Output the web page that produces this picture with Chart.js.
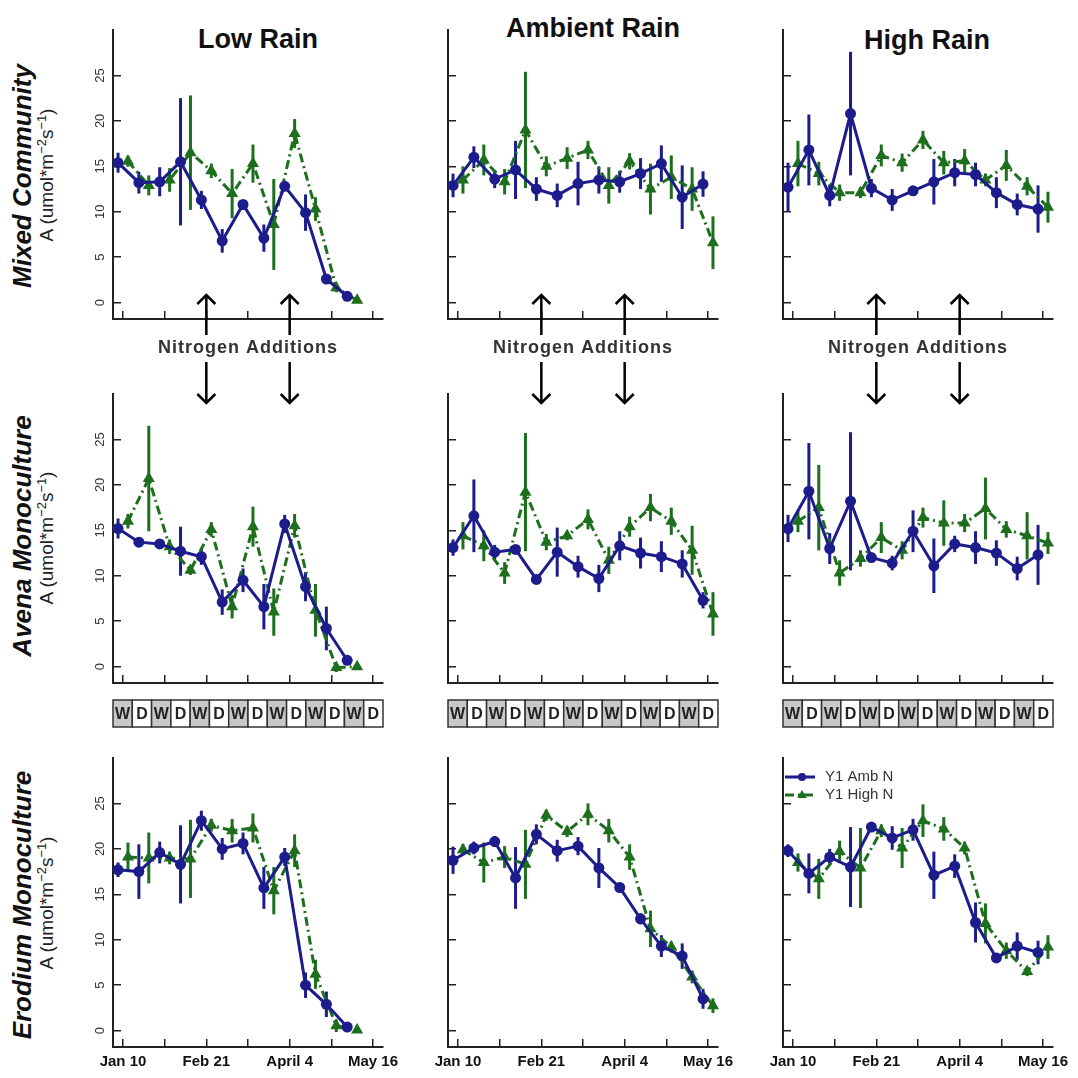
<!DOCTYPE html>
<html>
<head>
<meta charset="utf-8">
<script src="https://cdn.jsdelivr.net/npm/chart.js@4.4.0/dist/chart.umd.min.js"></script>
<style>
  body { margin: 0; background: #fff; width: 1078px; height: 1078px; position: relative; overflow: hidden; font-family: 'Liberation Sans', Arial, sans-serif; }
  canvas { position: absolute; }
  .t { position: absolute; white-space: nowrap; transform: translate(-50%, -50%); color: #111; }
  .r { transform: translate(-50%, -50%) rotate(-90deg); }
  .ttl { font: bold 27px 'Liberation Sans'; }
  .row { font: italic bold 26px 'Liberation Sans'; }
  .ax { font: 19px 'Liberation Sans'; color: #222; }
  sup { font-size: 0.68em; }
</style>
</head>
<body>
<div class="t ttl" style="left:258px;top:39px">Low Rain</div>
<div class="t ttl" style="left:593px;top:28px">Ambient Rain</div>
<div class="t ttl" style="left:927px;top:40px">High Rain</div>

<div class="t r row" style="left:22px;top:176px">Mixed Community</div>
<div class="t r row" style="left:22px;top:536px">Avena Monoculture</div>
<div class="t r row" style="left:22px;top:905px">Erodium Monoculture</div>

<div class="t r ax" style="left:46px;top:175px">A (umol*m<sup>−2</sup>s<sup>−1</sup>)</div>
<div class="t r ax" style="left:46px;top:538px">A (umol*m<sup>−2</sup>s<sup>−1</sup>)</div>
<div class="t r ax" style="left:46px;top:903px">A (umol*m<sup>−2</sup>s<sup>−1</sup>)</div>

<script>
// sampling dates, days after Jan 10
const sampleDays = [0, 10.5, 21, 31.5, 42, 52.5, 63, 73.5, 84, 94.5, 105, 115.5, 126];
const xTickDays = [0, 21, 42, 63, 84, 105, 126];
const xTickLabels = ['Jan 10', '', 'Feb 21', '', 'April 4', '', 'May 16'];
const yTicks = [0, 5, 10, 15, 20, 25];
const nitrogenDays = [42, 84];
const periodType = ['W', 'D', 'W', 'D', 'W', 'D', 'W', 'D', 'W', 'D', 'W', 'D', 'W', 'D'];
const seriesNames = ['Y1 Amb N', 'Y1 High N'];

// Mixed community
const lowMixedAmb = [15.4, 13.2, 13.3, 15.5, 11.3, 6.8, 10.8, 7.1, 12.8, 9.9, 2.6, 0.7];
const lowMixedAmbErr = [1.1, 1.2, 1.6, 7.0, 1.0, 1.3, 0.5, 1.5, 0.5, 2.0, 0.5, 0.3];
const lowMixedHigh = [15.55, 12.9, 13.5, 16.5, 14.5, 12.0, 15.3, 8.6, 18.6, 10.3, 1.65, 0.25];
const lowMixedHighErr = [0.6, 1.1, 1.3, 6.3, 0.8, 2.7, 2.1, 5.0, 1.6, 1.3, 0.5, 0.2];

const ambMixedAmb = [12.9, 16.0, 13.6, 14.6, 12.5, 11.8, 13.1, 13.5, 13.3, 14.2, 15.3, 11.6, 13.05];
const ambMixedAmbErr = [1.3, 1.2, 1.0, 3.2, 1.3, 1.3, 2.4, 1.5, 1.2, 1.7, 2.0, 3.5, 1.4];
const ambMixedHigh = [13.5, 15.7, 13.3, 19.0, 15.0, 15.9, 16.8, 12.9, 15.55, 12.5, 13.8, 12.5, 6.6];
const ambMixedHighErr = [1.5, 1.7, 1.4, 6.4, 1.1, 1.2, 1.0, 2.0, 0.9, 2.8, 2.4, 2.4, 2.9];

const highMixedAmb = [12.7, 16.8, 11.8, 20.8, 12.6, 11.3, 12.3, 13.3, 14.3, 14.1, 12.1, 10.8, 10.3];
const highMixedAmbErr = [2.7, 3.9, 1.2, 6.8, 1.0, 1.2, 0.5, 2.5, 1.5, 1.3, 1.7, 1.2, 2.6];
const highMixedHigh = [15.3, 14.2, 12.1, 12.1, 16.2, 15.4, 17.9, 15.4, 15.6, 13.5, 15.1, 12.8, 10.5];
const highMixedHighErr = [2.5, 1.3, 0.9, 0.6, 1.2, 1.0, 1.0, 1.3, 1.3, 0.7, 1.7, 1.0, 1.7];

// Avena monoculture
const lowAvenaAmb = [15.2, 13.7, 13.5, 12.7, 12.1, 7.1, 9.5, 6.6, 15.7, 8.8, 4.2, 0.7];
const lowAvenaAmbErr = [1.1, 0.5, 0.5, 2.7, 0.9, 1.4, 1.3, 2.5, 1.0, 1.6, 2.4, 0.4];
const lowAvenaHigh = [16.0, 20.7, 13.2, 10.6, 15.1, 6.6, 15.4, 6.0, 15.5, 6.2, -0.1, 0.0];
const lowAvenaHighErr = [0.8, 5.8, 0.8, 0.5, 0.8, 1.3, 2.2, 2.6, 1.3, 2.9, 0.5, 0.3];

const ambAvenaAmb = [13.1, 16.6, 12.6, 12.9, 9.6, 12.6, 11.0, 9.7, 13.3, 12.5, 12.1, 11.3, 7.3];
const ambAvenaAmbErr = [0.9, 4.0, 0.8, 0.4, 0.5, 2.7, 1.2, 1.5, 1.6, 1.7, 1.7, 1.5, 0.9];
const ambAvenaHigh = [14.4, 13.3, 10.3, 19.2, 13.7, 14.4, 16.2, 11.7, 15.4, 17.5, 16.0, 12.8, 5.8];
const ambAvenaHighErr = [1.5, 1.7, 1.2, 6.5, 0.9, 0.5, 1.1, 1.5, 1.1, 1.5, 1.5, 2.7, 2.4];

const highAvenaAmb = [15.2, 19.3, 13.0, 18.2, 12.0, 11.4, 14.9, 11.1, 13.5, 13.1, 12.5, 10.8, 12.3];
const highAvenaAmbErr = [1.5, 5.3, 1.7, 7.6, 0.5, 0.8, 2.3, 3.0, 0.9, 1.8, 1.4, 1.3, 3.3];
const highAvenaHigh = [16.0, 17.5, 10.3, 11.9, 14.2, 12.8, 16.4, 15.8, 15.8, 17.4, 15.1, 14.4, 13.6];
const highAvenaHighErr = [1.2, 4.7, 1.4, 0.9, 1.7, 1.0, 1.1, 2.5, 1.0, 3.4, 0.9, 2.6, 1.2];

// Erodium monoculture
const lowErodiumAmb = [17.7, 17.5, 19.6, 18.3, 23.1, 20.0, 20.6, 15.7, 19.1, 5.0, 2.9, 0.4];
const lowErodiumAmbErr = [0.8, 3.0, 1.2, 4.3, 1.1, 1.2, 1.2, 2.3, 1.0, 1.4, 1.4, 0.3];
const lowErodiumHigh = [19.1, 19.0, 19.0, 18.9, 22.6, 22.0, 22.3, 15.4, 19.8, 6.2, 0.55, 0.07];
const lowErodiumHighErr = [1.6, 2.8, 0.7, 4.3, 0.7, 1.3, 1.6, 2.6, 1.8, 1.6, 0.7, 0.3];

const ambErodiumAmb = [18.75, 20.1, 20.8, 16.8, 21.6, 19.8, 20.3, 17.9, 15.75, 12.3, 9.3, 8.2, 3.5];
const ambErodiumAmbErr = [1.5, 0.7, 0.6, 3.4, 1.1, 1.2, 1.0, 2.2, 0.5, 0.6, 1.2, 1.4, 1.1];
const ambErodiumHigh = [19.9, 18.5, 19.1, 18.3, 23.7, 21.9, 23.8, 22.0, 19.1, 11.2, 9.2, 5.9, 2.75];
const ambErodiumHighErr = [0.6, 2.2, 1.2, 3.8, 0.6, 0.6, 1.2, 1.3, 1.4, 2.0, 0.6, 0.7, 0.8];

const highErodiumAmb = [19.8, 17.3, 19.1, 18.0, 22.4, 21.2, 22.1, 17.1, 18.1, 11.9, 8.0, 9.3, 8.6];
const highErodiumAmbErr = [0.7, 2.2, 0.9, 4.4, 0.5, 1.3, 1.2, 2.6, 1.3, 2.2, 0.5, 1.5, 1.3];
const highErodiumHigh = [18.5, 16.7, 19.7, 17.9, 22.0, 20.1, 23.1, 22.2, 20.1, 11.8, 8.8, 6.5, 9.2];
const highErodiumHighErr = [1.0, 2.2, 1.2, 4.4, 0.7, 2.2, 1.8, 1.3, 0.7, 2.2, 0.9, 0.5, 1.3];

const panels = [
  { row: 0, col: 0, amb: lowMixedAmb, ambErr: lowMixedAmbErr, high: lowMixedHigh, highErr: lowMixedHighErr },
  { row: 0, col: 1, amb: ambMixedAmb, ambErr: ambMixedAmbErr, high: ambMixedHigh, highErr: ambMixedHighErr },
  { row: 0, col: 2, amb: highMixedAmb, ambErr: highMixedAmbErr, high: highMixedHigh, highErr: highMixedHighErr },
  { row: 1, col: 0, amb: lowAvenaAmb, ambErr: lowAvenaAmbErr, high: lowAvenaHigh, highErr: lowAvenaHighErr },
  { row: 1, col: 1, amb: ambAvenaAmb, ambErr: ambAvenaAmbErr, high: ambAvenaHigh, highErr: ambAvenaHighErr },
  { row: 1, col: 2, amb: highAvenaAmb, ambErr: highAvenaAmbErr, high: highAvenaHigh, highErr: highAvenaHighErr },
  { row: 2, col: 0, amb: lowErodiumAmb, ambErr: lowErodiumAmbErr, high: lowErodiumHigh, highErr: lowErodiumHighErr },
  { row: 2, col: 1, amb: ambErodiumAmb, ambErr: ambErodiumAmbErr, high: ambErodiumHigh, highErr: ambErodiumHighErr },
  { row: 2, col: 2, amb: highErodiumAmb, ambErr: highErodiumAmbErr, high: highErodiumHigh, highErr: highErodiumHighErr },
];

const BLUE = '#1c1c8c';
const GREEN = '#1d6e1d';
const INK = '#222';
const FONT = '"Liberation Sans", Arial, sans-serif';

// page layout of each plot area
const colLeft = [113, 448, 783];
const rowTop = [30, 394, 758];
const areaW = 270, areaH = 289;
const yAxisW = 40, xAxisH = 30, padTop = 10, padRight = 40;
const extraBottom = [61, 25, 0];

const errorBars = {
  id: 'errorBars',
  beforeDatasetsDraw(chart) {
    const { ctx, scales: { y } } = chart;
    chart.data.datasets.forEach((ds, i) => {
      const meta = chart.getDatasetMeta(i);
      ctx.save();
      ctx.strokeStyle = ds.borderColor;
      ctx.lineWidth = 3;
      meta.data.forEach((pt, j) => {
        const d = ds.data[j];
        ctx.beginPath();
        ctx.moveTo(pt.x, y.getPixelForValue(d.y - d.e));
        ctx.lineTo(pt.x, y.getPixelForValue(d.y + d.e));
        ctx.stroke();
      });
      ctx.restore();
    });
  }
};

function arrow(ctx, x, from, tip) {
  const dir = Math.sign(tip - from);
  ctx.beginPath();
  ctx.moveTo(x, from);
  ctx.lineTo(x, tip);
  ctx.moveTo(x - 9, tip - dir * 9);
  ctx.lineTo(x, tip);
  ctx.lineTo(x + 9, tip - dir * 9);
  ctx.stroke();
}

function triangle(ctx, x, y, r) {
  ctx.beginPath();
  ctx.moveTo(x, y - r);
  ctx.lineTo(x + r * 0.95, y + r * 0.6);
  ctx.lineTo(x - r * 0.95, y + r * 0.6);
  ctx.closePath();
  ctx.fill();
}

const extras = (p) => ({
  id: 'extras',
  afterDraw(chart) {
    const { ctx, chartArea: a, scales: { x, y } } = chart;
    ctx.save();

    // rotated y tick labels, first column only
    if (p.col === 0) {
      ctx.fillStyle = '#333';
      ctx.font = '13px ' + FONT;
      ctx.textAlign = 'center';
      ctx.textBaseline = 'middle';
      yTicks.forEach(v => {
        ctx.save();
        ctx.translate(a.left - 13, y.getPixelForValue(v));
        ctx.rotate(-Math.PI / 2);
        ctx.fillText(String(v), 0, 0);
        ctx.restore();
      });
    }

    // nitrogen addition arrows under the top row
    if (p.row === 0) {
      ctx.strokeStyle = '#000';
      ctx.lineWidth = 2.5;
      nitrogenDays.forEach(d => {
        const px = x.getPixelForValue(d);
        arrow(ctx, px, a.bottom + 16, a.bottom - 24);
        arrow(ctx, px, a.bottom + 43, a.bottom + 84);
      });
      const mid = (x.getPixelForValue(nitrogenDays[0]) + x.getPixelForValue(nitrogenDays[1])) / 2;
      ctx.fillStyle = '#333';
      ctx.font = 'bold 18px ' + FONT;
      ctx.letterSpacing = '1px';
      ctx.textAlign = 'center';
      ctx.textBaseline = 'middle';
      ctx.fillText('Nitrogen Additions', mid, a.bottom + 29);
      ctx.letterSpacing = '0px';
    }

    // wet / dry periods under the middle row, spread over the axis
    if (p.row === 1) {
      const top = a.bottom + 17, h = 27;
      const step = (x.max - x.min) / periodType.length;
      ctx.font = 'bold 16px ' + FONT;
      ctx.textAlign = 'center';
      ctx.textBaseline = 'middle';
      ctx.lineWidth = 1.5;
      periodType.forEach((t, i) => {
        const x0 = x.getPixelForValue(x.min + i * step);
        const x1 = x.getPixelForValue(x.min + (i + 1) * step);
        ctx.fillStyle = t === 'W' ? '#c8c8c8' : '#fff';
        ctx.fillRect(x0, top, x1 - x0, h);
        ctx.strokeStyle = '#333';
        ctx.strokeRect(x0, top, x1 - x0, h);
        ctx.fillStyle = '#222';
        ctx.fillText(t, (x0 + x1) / 2, top + h / 2 + 1);
      });
    }

    // legend in the last panel
    if (p.row === 2 && p.col === 2) {
      const lx = a.left + 2, ly = a.top + 19;
      ctx.font = '15px ' + FONT;
      ctx.textAlign = 'left';
      ctx.textBaseline = 'middle';
      ctx.strokeStyle = BLUE; ctx.fillStyle = BLUE; ctx.lineWidth = 3;
      ctx.beginPath(); ctx.moveTo(lx, ly); ctx.lineTo(lx + 30, ly); ctx.stroke();
      ctx.beginPath(); ctx.arc(lx + 17, ly, 4, 0, Math.PI * 2); ctx.fill();
      ctx.strokeStyle = GREEN; ctx.fillStyle = GREEN;
      ctx.setLineDash([9, 4, 2, 4]);
      ctx.beginPath(); ctx.moveTo(lx, ly + 18); ctx.lineTo(lx + 30, ly + 18); ctx.stroke();
      ctx.setLineDash([]);
      triangle(ctx, lx + 17, ly + 18, 5);
      ctx.fillStyle = '#333';
      ctx.fillText(seriesNames[0], lx + 40, ly);
      ctx.fillText(seriesNames[1], lx + 40, ly + 18);
    }
    ctx.restore();
  }
});

panels.forEach(p => {
  const cv = document.createElement('canvas');
  cv.width = yAxisW + areaW + padRight;
  cv.height = padTop + areaH + xAxisH + extraBottom[p.row];
  cv.style.left = (colLeft[p.col] - yAxisW) + 'px';
  cv.style.top = (rowTop[p.row] - padTop) + 'px';
  document.body.appendChild(cv);

  const points = (vals, errs, dx) => vals.map((v, i) => ({ x: sampleDays[i] + dx, y: v, e: errs[i] }));

  new Chart(cv, {
    type: 'line',
    data: {
      datasets: [
        {
          label: seriesNames[0],
          data: points(p.amb, p.ambErr, -2.5),
          borderColor: BLUE,
          backgroundColor: BLUE,
          borderWidth: 3,
          pointStyle: 'circle',
          pointRadius: 5.5,
          pointBorderWidth: 0,
          tension: 0,
          clip: false,
        },
        {
          label: seriesNames[1],
          data: points(p.high, p.highErr, 2.5),
          borderColor: GREEN,
          backgroundColor: GREEN,
          borderWidth: 3,
          borderDash: [9, 4, 2, 4],
          pointStyle: 'triangle',
          pointRadius: 7,
          pointBorderWidth: 0,
          tension: 0,
          clip: false,
        },
      ],
    },
    options: {
      responsive: false,
      animation: false,
      devicePixelRatio: 1,
      layout: { padding: { top: padTop, right: padRight, bottom: extraBottom[p.row], left: 0 } },
      plugins: { legend: { display: false }, tooltip: { enabled: false } },
      scales: {
        x: {
          type: 'linear',
          min: -5.04,
          max: 131.04,
          afterBuildTicks: s => { s.ticks = xTickDays.map(v => ({ value: v })); },
          afterFit: s => { s.height = xAxisH; },
          ticks: {
            display: p.row === 2,
            autoSkip: false,
            maxRotation: 0,
            padding: 14,
            color: '#111',
            font: { family: FONT, size: 15, weight: 'bold' },
            callback: v => xTickLabels[xTickDays.indexOf(v)],
          },
          grid: { drawOnChartArea: false, drawTicks: true, tickLength: -8, color: INK, lineWidth: 1.5 },
          border: { display: true, color: INK, width: 2 },
        },
        y: {
          min: -1.8,
          max: 30,
          afterBuildTicks: s => { s.ticks = yTicks.map(v => ({ value: v })); },
          afterFit: s => { s.width = yAxisW; },
          ticks: { display: false },
          grid: { drawOnChartArea: false, drawTicks: true, tickLength: -8, color: INK, lineWidth: 1.5 },
          border: { display: true, color: INK, width: 2 },
        },
      },
    },
    plugins: [errorBars, extras(p)],
  });
});
</script>
</body>
</html>
